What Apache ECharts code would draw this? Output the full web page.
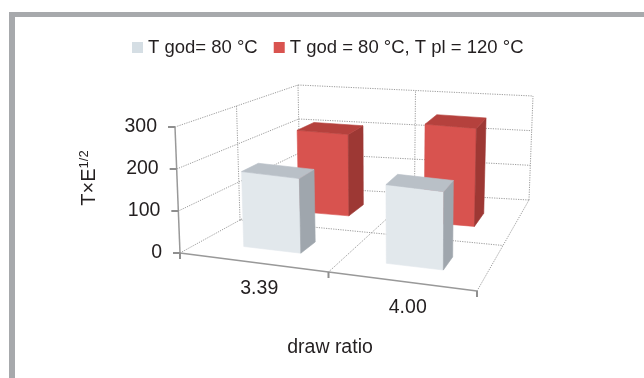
<!DOCTYPE html>
<html>
<head>
<meta charset="utf-8">
<script src="https://cdn.jsdelivr.net/npm/echarts@6/dist/echarts.min.js"></script>
<style>
  html, body { margin: 0; padding: 0; background: #ffffff; }
  #chart { width: 644px; height: 378px; }
</style>
</head>
<body>
<div id="chart"></div>
<script>
// ---- data ----
const categories = ['3.39', '4.00'];
const seriesNames = ['T god= 80 °C', 'T god = 80 °C, T pl = 120 °C'];
const valuesGod80 = [185, 196];
const valuesGod80Pl120 = [222, 267];
const yTicks = [0, 100, 200, 300];

// ---- look ----
const FONT = '"Liberation Sans", Arial, Helvetica, sans-serif';
const TEXT = '#231f20';
const GRID_COLOR = '#9c9c9c';
const AXIS_COLOR = '#999999';

// Oblique perspective box built on the (hidden) cartesian grid:
// floor corners relative to the grid's front edge and the vertical rise at each corner.
const VIEW = {
  frontDrop: 38,
  depthLeft: [120, -66],
  depthRight: [52, -91],
  riseFL: [-5, -126],
  riseFR: [1, -123],
  riseBL: [-2, -102],
  riseBR: [4, -104]
};
const BAR_WIDTH = 0.4;   // share of a category band
const BAR_DEPTH = 0.15;  // share of the depth axis

function makeProjector(cs) {
  const flb = [cs.x, cs.y + cs.height];
  const frb = [cs.x + cs.width, cs.y + cs.height + VIEW.frontDrop];
  const blb = [flb[0] + VIEW.depthLeft[0], flb[1] + VIEW.depthLeft[1]];
  const brb = [frb[0] + VIEW.depthRight[0], frb[1] + VIEW.depthRight[1]];
  const rFL = VIEW.riseFL, rFR = VIEW.riseFR, rBL = VIEW.riseBL, rBR = VIEW.riseBR;
  // u: across categories, v: value share, w: depth (0 = front, 1 = back)
  return function (u, v, w) {
    const a = (1 - u) * (1 - w), b = u * (1 - w), c = (1 - u) * w, d = u * w;
    const x = a * flb[0] + b * frb[0] + c * blb[0] + d * brb[0]
      + v * (a * rFL[0] + b * rFR[0] + c * rBL[0] + d * rBR[0]);
    const y = a * flb[1] + b * frb[1] + c * blb[1] + d * brb[1]
      + v * (a * rFL[1] + b * rFR[1] + c * rBL[1] + d * rBR[1]);
    return [x, y];
  };
}

function toU(cs, px) { return (px - cs.x) / cs.width; }
function toV(cs, py) { return (cs.y + cs.height - py) / cs.height; }

function seg(p, q, solid, color, width) {
  return {
    type: 'line',
    shape: { x1: p[0], y1: p[1], x2: q[0], y2: q[1] },
    style: {
      stroke: color || (solid ? AXIS_COLOR : GRID_COLOR),
      lineWidth: width || 1,
      lineDash: solid ? null : [1.2, 1.2]
    },
    silent: true
  };
}

// walls, floor, axes, ticks and tick labels
function renderFrame(params, api) {
  const cs = params.coordSys;
  const P = makeProjector(cs);
  const kids = [];
  const vs = yTicks.map(t => toV(cs, api.coord([0, t])[1]));
  const band = api.size([1, 0])[0];
  const bounds = [];
  categories.forEach((c, i) => {
    const cx = api.coord([i, 0])[0];
    if (i === 0) bounds.push(toU(cs, cx - band / 2));
    bounds.push(toU(cs, cx + band / 2));
  });
  const uL = bounds[0], uR = bounds[bounds.length - 1];
  const vTop = vs[vs.length - 1];

  // left wall
  vs.forEach(v => kids.push(seg(P(uL, v, 0), P(uL, v, 1))));
  [0.5, 1].forEach(w => kids.push(seg(P(uL, 0, w), P(uL, vTop, w))));
  // back wall
  vs.forEach(v => kids.push(seg(P(uL, v, 1), P(uR, v, 1))));
  bounds.slice(1).forEach(u => kids.push(seg(P(u, 0, 1), P(u, vTop, 1))));
  // floor
  kids.push(seg(P(uL, 0, 0.5), P(uR, 0, 0.5)));
  bounds.slice(1).forEach(u => kids.push(seg(P(u, 0, 0), P(u, 0, 1))));

  // value axis, category axis
  kids.push(seg(P(uL, 0, 0), P(uL, vTop, 0), true, AXIS_COLOR, 1.5));
  kids.push(seg(P(uL, 0, 0), P(uR, 0, 0), true, AXIS_COLOR, 1.5));

  // value ticks + labels
  vs.forEach((v, i) => {
    const p = P(uL, v, 0);
    kids.push(seg(p, [p[0] - 7, p[1]], true, '#8f8f8f', 2));
    kids.push({
      type: 'text', silent: true,
      style: {
        x: p[0] - 18, y: p[1], text: String(yTicks[i]),
        align: 'right', verticalAlign: 'middle',
        font: '19.5px ' + FONT, fill: TEXT
      }
    });
  });
  // category ticks + labels
  bounds.forEach(u => {
    const p = P(u, 0, 0);
    kids.push(seg(p, [p[0], p[1] + 6], true, '#8f8f8f', 2));
  });
  categories.forEach((c, i) => {
    const p = P(toU(cs, api.coord([i, 0])[0]), 0, 0);
    kids.push({
      type: 'text', silent: true,
      style: {
        x: p[0] + 5, y: p[1] + 26.5, text: c,
        align: 'center', verticalAlign: 'middle',
        font: '19.5px ' + FONT, fill: TEXT
      }
    });
  });
  return { type: 'group', children: kids };
}

function boxRenderer(row, rowCount, faces) {
  return function (params, api) {
    const cs = params.coordSys;
    const P = makeProjector(cs);
    const idx = api.value(0);
    const top = api.coord([idx, api.value(1)]);
    const base = api.coord([idx, 0]);
    const half = api.size([1, 0])[0] * BAR_WIDTH / 2;
    const u0 = toU(cs, top[0] - half), u1 = toU(cs, top[0] + half);
    const v = toV(cs, top[1]) - toV(cs, base[1]);
    const wc = (row + 0.5) / rowCount;
    const w0 = wc - BAR_DEPTH / 2, w1 = wc + BAR_DEPTH / 2;
    const poly = (pts, fill) => ({
      type: 'polygon', shape: { points: pts },
      style: { fill: fill, stroke: fill, lineWidth: 0.6 }
    });
    return {
      type: 'group',
      children: [
        poly([P(u0, 0, w0), P(u1, 0, w0), P(u1, v, w0), P(u0, v, w0)], faces.front),
        poly([P(u1, 0, w0), P(u1, 0, w1), P(u1, v, w1), P(u1, v, w0)], faces.side),
        poly([P(u0, v, w0), P(u1, v, w0), P(u1, v, w1), P(u0, v, w1)], faces.top)
      ]
    };
  };
}

const chart = echarts.init(document.getElementById('chart'), null, { renderer: 'canvas' });

chart.setOption({
  animation: false,
  backgroundColor: '#ffffff',
  textStyle: { fontFamily: FONT },
  grid: { left: 180, top: 127, width: 297, height: 126 },
  xAxis: {
    type: 'category', data: categories, boundaryGap: true,
    axisLine: { show: false }, axisTick: { show: false },
    axisLabel: { show: false }, splitLine: { show: false }
  },
  yAxis: {
    type: 'value', min: 0, max: 300, interval: 100,
    axisLine: { show: false }, axisTick: { show: false },
    axisLabel: { show: false }, splitLine: { show: false }
  },
  legend: {
    data: seriesNames,
    left: 132, top: 38, padding: 0,
    icon: 'rect', itemWidth: 11, itemHeight: 11, itemGap: 16,
    textStyle: { fontSize: 18.5, color: TEXT, fontFamily: FONT }
  },
  graphic: [
    { type: 'rect', shape: { x: 9, y: 12, width: 635, height: 5 }, style: { fill: '#a7a9ac' }, silent: true },
    { type: 'rect', shape: { x: 9, y: 12, width: 6, height: 366 }, style: { fill: '#a7a9ac' }, silent: true },
    {
      type: 'text', x: 330, y: 348, silent: true,
      style: { text: 'draw ratio', align: 'center', verticalAlign: 'middle', font: '19.5px ' + FONT, fill: TEXT }
    },
    {
      type: 'text', x: 89, y: 178, rotation: Math.PI / 2, silent: true,
      style: {
        text: '{b|T×E}{s|1/2}', align: 'center', verticalAlign: 'middle',
        rich: {
          b: { fontSize: 20, fontFamily: FONT, fill: TEXT, lineHeight: 22 },
          s: { fontSize: 13, fontFamily: FONT, fill: TEXT, lineHeight: 14, verticalAlign: 'top' }
        }
      }
    }
  ],
  series: [
    {
      type: 'custom', name: 'frame', z: 1, silent: true,
      renderItem: renderFrame,
      data: [[0, 0]]
    },
    {
      type: 'custom', name: seriesNames[0], z: 3,
      itemStyle: { color: '#d5dee4' },
      renderItem: boxRenderer(0, 2, { front: '#e2e8ec', side: '#9fa6ad', top: '#b9c0c7' }),
      data: valuesGod80.map((v, i) => [i, v])
    },
    {
      type: 'custom', name: seriesNames[1], z: 2,
      itemStyle: { color: '#d9534f' },
      renderItem: boxRenderer(1, 2, { front: '#d8534f', side: '#9d3834', top: '#b5413d' }),
      data: valuesGod80Pl120.map((v, i) => [i, v])
    }
  ]
});
</script>
</body>
</html>
